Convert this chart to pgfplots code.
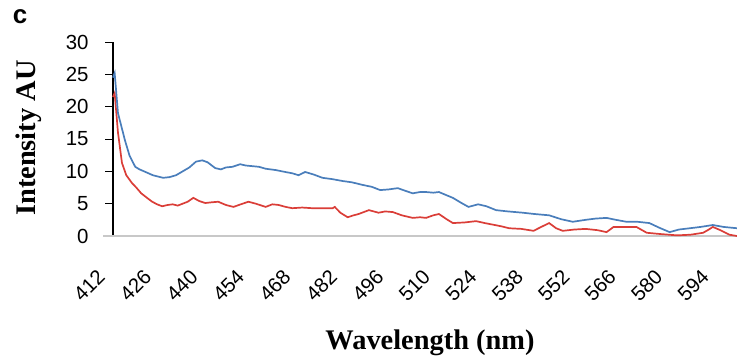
\documentclass[border=0pt]{standalone}
\usepackage{pgfplots}
\pgfplotsset{compat=1.18}
\usepackage{fontspec}
\setmainfont{Liberation Sans}
\newfontfamily\serifbold{Liberation Serif}
\definecolor{bl}{RGB}{74,126,187}
\definecolor{rd}{RGB}{218,62,56}
\definecolor{axgray}{RGB}{200,200,200}
\begin{document}
\begin{tikzpicture}[x=1bp,y=1bp]
\useasboundingbox (0,0) rectangle (737,360);
\node[font=\fontsize{26}{26}\selectfont\bfseries] at (20,343) {c};
\begin{axis}[
  at={(113bp,124bp)}, anchor=origin,
  scale only axis, width=624bp, height=194bp,
  xmin=412, xmax=600, ymin=0, ymax=30,
  axis x line=bottom, axis y line=left,
  x axis line style={draw=none},
  y axis line style={-, black, line width=1.2pt},
  xtick={412,426,...,594},
  ytick={0,5,...,30},
  tick align=outside,
  major tick length=8bp,
  major x tick style={draw=none},
  major y tick style={black, line width=0.8pt},
  /pgf/number format/assume math mode=true,
  tick label style={font=\fontsize{20.5}{20.5}\selectfont},
  xticklabel style={yshift=-29bp, xshift=-11bp, rotate=45, anchor=east, inner sep=1bp},
  yticklabel style={anchor=east, xshift=-13bp},
  xlabel={\serifbold\bfseries Wavelength (nm)},
  ylabel={\serifbold\bfseries Intensity AU},
  label style={font=\fontsize{28.5}{28.5}\selectfont},
  x label style={at={(axis description cs:0.508,-0.552)}, anchor=center},
  y label style={at={(axis description cs:-0.135,0.505)}, anchor=center, rotate=0},
  clip=false,
]
\draw[axgray, line width=2bp] (axis cs:409,0) -- (axis cs:600,0);
\addplot[rd, line width=1.7bp] coordinates {
(412,21.5)(412.5,22.1)(413.5,16.0)(414.7,11.3)(416,9.4)(417.7,8.2)(419,7.5)(420.5,6.6)(422,6.0)(423.8,5.3)(425.3,4.9)(426.8,4.6)
(428.5,4.8)(430,4.9)(431.5,4.7)(433,5.0)(434.5,5.3)(436.2,5.9)(438,5.4)(439.8,5.1)(441.5,5.2)(443.7,5.3)(446,4.8)(448.3,4.5)(450.5,4.9)(452.8,5.3)(455,5.0)(458,4.5)
(460,4.9)(461.9,4.8)(464,4.5)(466,4.3)(469,4.4)(472,4.3)(475,4.3)(478.2,4.3)(478.8,4.5)(480.5,3.6)(482.7,2.9)(484.5,3.2)(486,3.4)(489.1,4.0)(492,3.6)(494,3.8)
(496.3,3.7)(499,3.2)(502.3,2.8)(504.5,2.9)(506.3,2.8)(508.5,3.2)(510.2,3.4)(512.5,2.6)(514.4,2.0)(518,2.1)(521.4,2.3)(524,2.0)(526,1.8)(529,1.5)(531.3,1.2)(535,1.1)
(538.7,0.8)(541,1.4)(543.4,2.0)(545.5,1.2)(547.5,0.8)(551,1.0)(554.4,1.1)(558,0.9)(560.7,0.6)(562.8,1.4)(566,1.4)(569.7,1.4)(572.8,0.5)
(577,0.3)(581.9,0.1)(586,0.2)(589.8,0.5)(591.5,1.0)(592.7,1.4)(595,0.9)(597.7,0.2)(600,0.0)
};
\addplot[bl, line width=1.7bp] coordinates {
(412,24.5)(412.5,25.2)(413.5,19.0)(414.8,16.4)(415.6,14.8)(417,12.4)(418.7,10.7)(420,10.3)(421.8,9.9)(424,9.4)(427.1,9.0)
(429,9.1)(431,9.4)(433,10.0)(435,10.6)(437,11.5)(438.9,11.7)(440.5,11.4)(442.8,10.5)(444.5,10.3)(446,10.6)(448,10.7)(450.3,11.1)(452,10.9)(454,10.8)(456,10.7)(458,10.4)
(461,10.2)(463.9,9.9)(466,9.7)(467.9,9.4)(469.9,9.9)(472.5,9.5)(475.1,9.0)(478,8.8)(481.2,8.5)(484,8.3)(487.2,7.9)(490,7.6)(492.5,7.1)(495,7.2)(497.8,7.4)
(500,7.0)(502.3,6.6)(504.5,6.8)(506.3,6.8)(508.5,6.7)(510.2,6.8)(512.5,6.3)(514.4,5.9)(517,5.1)(519.1,4.5)(522,4.9)(524.5,4.6)(527.4,4.0)(531,3.8)(535.5,3.6)
(539,3.4)(543.4,3.2)(547,2.6)(550.5,2.2)(554.4,2.5)(557.5,2.7)(560.7,2.8)(563.5,2.5)(566.7,2.2)(570,2.2)(573.6,2.0)(576.5,1.3)(579.7,0.6)(582.5,1.0)(585.8,1.2)(589,1.4)
(592.7,1.7)(596,1.4)(600,1.2)
};
\end{axis}
\end{tikzpicture}
\end{document}
